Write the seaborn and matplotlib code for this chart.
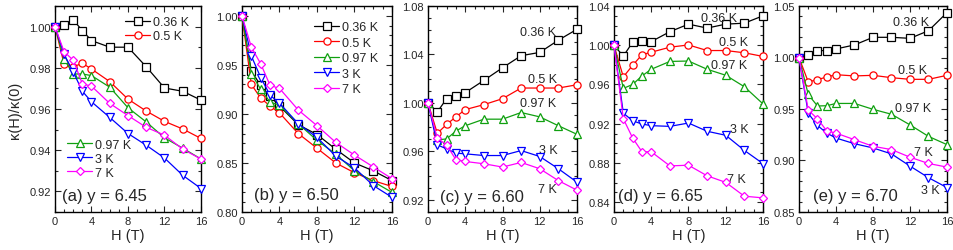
import numpy as np
import pandas as pd
import matplotlib
matplotlib.use("Agg")
import matplotlib.pyplot as plt
from matplotlib.ticker import MultipleLocator
import seaborn as sns

sns.set_theme(style="ticks")
plt.rcParams['font.family'] = ['Liberation Sans', 'DejaVu Sans']

H = [0, 1, 2, 3, 4, 6, 8, 10, 12, 14, 16]
temps = ["0.36 K", "0.5 K", "0.97 K", "3 K", "7 K"]
colors = ["black", "#ff0000", "#10a010", "#0000ff", "#ff00ff"]
markers = ["s", "o", "^", "v", "D"]

# panel (a) y = 6.45
a_036 = [1.000, 1.0008, 1.0032, 0.9981, 0.9932, 0.9900, 0.9900, 0.9805, 0.9702, 0.9686, 0.9643]
a_05 = [1.000, 0.9817, 0.9805, 0.9822, 0.9794, 0.9733, 0.9648, 0.9590, 0.9540, 0.9503, 0.9457]
a_097 = [1.000, 0.9841, 0.9770, 0.9770, 0.9762, 0.9706, 0.9606, 0.9537, 0.9460, 0.9410, 0.9357]
a_3 = [1.000, 0.9865, 0.9780, 0.9686, 0.9635, 0.9559, 0.9481, 0.9424, 0.9362, 0.9278, 0.9214]
a_7 = [1.000, 0.9878, 0.9837, 0.9722, 0.9711, 0.9627, 0.9568, 0.9511, 0.9473, 0.9405, 0.9357]

# panel (b) y = 6.50
b_036 = [1.000, 0.9436, 0.929, 0.918, 0.908, 0.889, 0.879, 0.864, 0.850, 0.842, 0.832]
b_05 = [1.000, 0.930, 0.916, 0.908, 0.901, 0.880, 0.865, 0.850, 0.840, 0.832, 0.826]
b_097 = [1.000, 0.941, 0.925, 0.912, 0.909, 0.890, 0.873, 0.859, 0.842, 0.831, 0.820]
b_3 = [1.000, 0.959, 0.937, 0.919, 0.911, 0.890, 0.876, 0.857, 0.845, 0.827, 0.815]
b_7 = [1.000, 0.968, 0.951, 0.929, 0.926, 0.904, 0.888, 0.871, 0.858, 0.846, 0.834]

# panel (c) y = 6.60
c_036 = [1.000, 0.9926, 1.0035, 1.0057, 1.0085, 1.0186, 1.029, 1.039, 1.0417, 1.0518, 1.0608]
c_05 = [1.000, 0.9749, 0.9823, 0.9885, 0.9945, 0.9986, 1.0035, 1.0123, 1.0123, 1.0123, 1.015]
c_097 = [1.000, 0.9695, 0.9703, 0.9768, 0.9812, 0.9866, 0.9866, 0.9921, 0.9885, 0.9812, 0.9741]
c_3 = [1.000, 0.9654, 0.9621, 0.9586, 0.958, 0.9566, 0.9566, 0.9607, 0.9558, 0.9457, 0.9346]
c_7 = [1.000, 0.9708, 0.9654, 0.9531, 0.9517, 0.9498, 0.9471, 0.9509, 0.9457, 0.9359, 0.928]

# panel (d) y = 6.65
d_036 = [1.000, 0.9889, 1.003, 1.0044, 1.0037, 1.0138, 1.0215, 1.0175, 1.0215, 1.0225, 1.030]
d_05 = [1.000, 0.9677, 0.9795, 0.9903, 0.9929, 0.998, 1.0003, 0.9946, 0.9946, 0.9923, 0.9886]
d_097 = [1.000, 0.956, 0.960, 0.9687, 0.9755, 0.9835, 0.9839, 0.9755, 0.9694, 0.9577, 0.9402]
d_3 = [1.000, 0.9308, 0.923, 0.9197, 0.918, 0.9173, 0.9207, 0.9123, 0.9082, 0.8928, 0.8793]
d_7 = [1.000, 0.925, 0.9055, 0.8914, 0.8914, 0.877, 0.8777, 0.8669, 0.8602, 0.8461, 0.8444]

# panel (e) y = 6.70
e_036 = [1.000, 1.0029, 1.0067, 1.0067, 1.0083, 1.0122, 1.0196, 1.0196, 1.0186, 1.026, 1.0436]
e_05 = [1.000, 0.9763, 0.9785, 0.9811, 0.9833, 0.9821, 0.9827, 0.9804, 0.9788, 0.9788, 0.9827]
e_097 = [1.000, 0.9641, 0.9529, 0.9532, 0.9554, 0.9554, 0.9497, 0.9449, 0.9346, 0.9234, 0.9154]
e_3 = [1.000, 0.9458, 0.934, 0.9266, 0.9218, 0.9163, 0.9122, 0.9064, 0.8946, 0.8833, 0.8737]
e_7 = [1.000, 0.949, 0.9404, 0.9288, 0.9266, 0.9202, 0.9138, 0.9106, 0.9032, 0.8971, 0.8936]

panels = [
    dict(series=[a_036, a_05, a_097, a_3, a_7], title="(a) y = 6.45", ylim=(0.91, 1.01),
         major=0.02, minor=0.01, fmt="%.2f"),
    dict(series=[b_036, b_05, b_097, b_3, b_7], title="(b) y = 6.50", ylim=(0.80, 1.01),
         major=0.05, minor=0.01, fmt="%.2f"),
    dict(series=[c_036, c_05, c_097, c_3, c_7], title="(c) y = 6.60", ylim=(0.91, 1.08),
         major=0.04, minor=0.01, fmt="%.2f"),
    dict(series=[d_036, d_05, d_097, d_3, d_7], title="(d) y = 6.65", ylim=(0.83, 1.04),
         major=0.04, minor=0.01, fmt="%.2f"),
    dict(series=[e_036, e_05, e_097, e_3, e_7], title="(e) y = 6.70", ylim=(0.85, 1.05),
         major=0.05, minor=0.01, fmt="%.2f"),
]

title_pos = [(5.4, 0.918), (5.8, 0.8178), (5.8, 0.9232), (5.0, 0.8467), (6.1, 0.8657)]
curve_labels = {
    2: [(11.8, 1.0587), (12.3, 1.020), (11.8, 0.9996), (12.9, 0.9614), (12.8, 0.9287)],
    3: [(11.3, 1.0282), (12.8, 1.003), (12.4, 0.9795), (13.5, 0.9146), (13.1, 0.8635)],
    4: [(12.1, 1.034), (12.3, 0.9875), (12.3, 0.9513), (14.15, 0.8715), (13.4, 0.9083)],
}

W, Hh = 954, 251
fig = plt.figure(figsize=(W / 100, Hh / 100), dpi=100)
lefts = [55, 242, 428, 614, 799]
rights = [201, 392, 577, 763, 947]
top, bot = 7, 213

for i, p in enumerate(panels):
    ax = fig.add_axes([lefts[i] / W, 1 - bot / Hh, (rights[i] - lefts[i]) / W, (bot - top) / Hh])
    for j, s in enumerate(p["series"]):
        df = pd.DataFrame({"H": H, "k": s})
        sns.lineplot(data=df, x="H", y="k", ax=ax, color=colors[j], marker=markers[j],
                     markersize=5.2 if markers[j] != "D" else 4.5,
                     markerfacecolor="white", markeredgecolor=colors[j], markeredgewidth=0.9,
                     linewidth=0.9, label=temps[j], clip_on=False, zorder=3 + j)
    ax.set_xlim(0, 16)
    ax.set_ylim(*p["ylim"])
    ax.xaxis.set_major_locator(MultipleLocator(4))
    ax.xaxis.set_minor_locator(MultipleLocator(1))
    ax.yaxis.set_major_locator(MultipleLocator(p["major"]))
    ax.yaxis.set_minor_locator(MultipleLocator(p["minor"]))
    ax.yaxis.set_major_formatter(matplotlib.ticker.FormatStrFormatter(p["fmt"]))
    ax.tick_params(which="both", direction="in", top=True, right=True, labelsize=8, width=0.8,
                   pad=3)
    ax.tick_params(which="major", length=4)
    ax.tick_params(which="minor", length=2.5)
    for sp in ax.spines.values():
        sp.set_linewidth(1.0)
        sp.set_color("black")
    ax.set_xlabel("H (T)", fontsize=10.5, labelpad=1)
    if i == 0:
        ax.set_ylabel("κ(H)/κ(0)", fontsize=10.5, labelpad=5)
    else:
        ax.set_ylabel("")
    ax.text(title_pos[i][0], title_pos[i][1], p["title"], fontsize=12, ha="center", va="center")

    handles, labels = ax.get_legend_handles_labels()
    if ax.get_legend() is not None:
        ax.get_legend().remove()
    lkw = dict(frameon=False, fontsize=9, handlelength=2.0, handletextpad=0.2,
               borderpad=0, borderaxespad=0, labelspacing=0.15)
    if i == 0:
        l1 = ax.legend(handles[:2], labels[:2], loc="upper right", bbox_to_anchor=(0.915, 0.95), **lkw)
        ax.add_artist(l1)
        ax.legend(handles[2:], labels[2:], loc="upper left", bbox_to_anchor=(0.085, 0.355), **lkw)
    elif i == 1:
        lkw["labelspacing"] = 0.28
        ax.legend(handles, labels, loc="upper right", bbox_to_anchor=(0.907, 0.927), **lkw)
    else:
        for j, (tx, ty) in enumerate(curve_labels[i]):
            ax.text(tx, ty, temps[j], fontsize=9, ha="center", va="center")

fig.savefig("out.png", dpi=100)
